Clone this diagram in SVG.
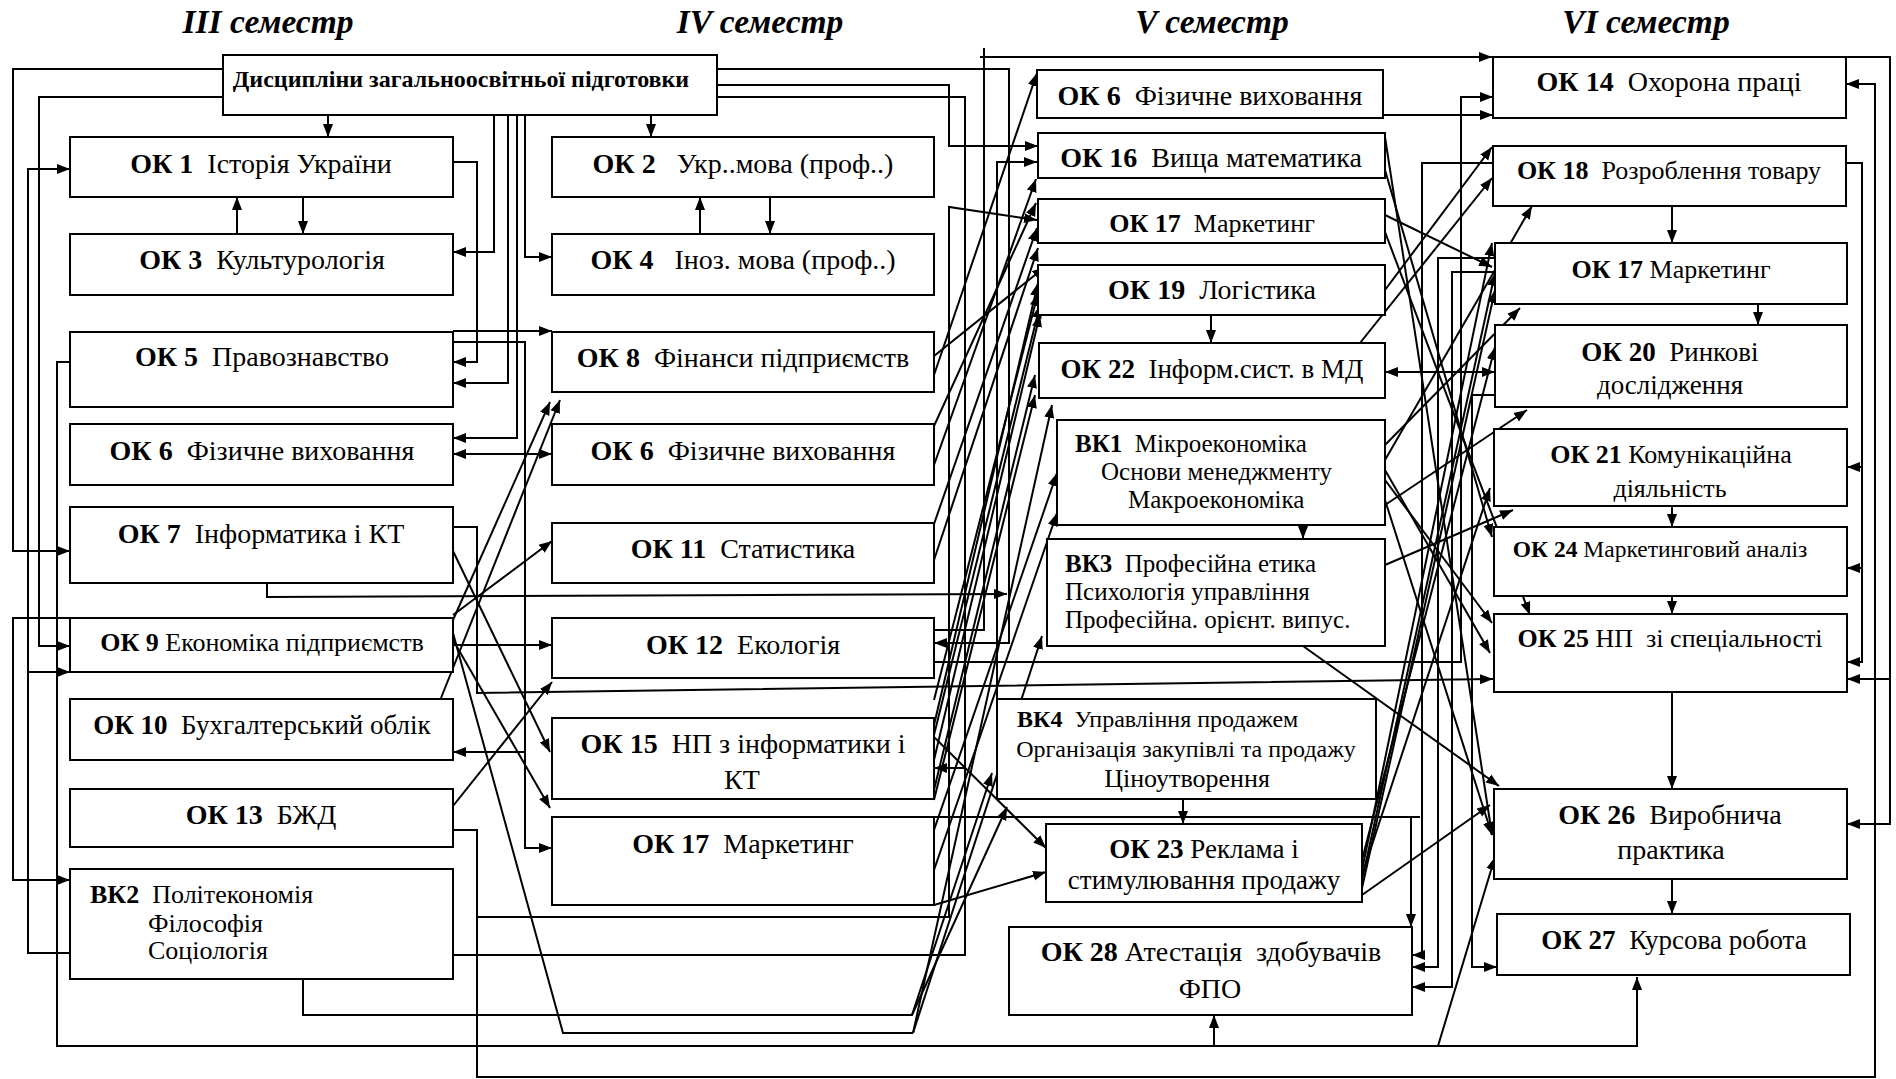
<svg xmlns="http://www.w3.org/2000/svg" width="1896" height="1079" viewBox="0 0 1896 1079">
<defs>
<marker id="a" markerUnits="userSpaceOnUse" markerWidth="14" markerHeight="12" refX="13" refY="5" orient="auto-start-reverse" viewBox="0 0 14 10"><path d="M0,0 L13,5 L0,10 z" fill="#000"/></marker>
<style>
.n rect{fill:#fff;stroke:#000;stroke-width:2}
.t{font-family:"Liberation Serif","Times New Roman",serif;font-size:28px;fill:#000;white-space:pre}
.m{text-anchor:middle}
.b{font-weight:bold}
.h{font-family:"Liberation Serif","Times New Roman",serif;font-size:33.5px;font-weight:bold;font-style:italic;text-anchor:middle}
#connectors path{fill:none;stroke:#000;stroke-width:2}
#connectors .ar{marker-end:url(#a)}
#connectors .ab{marker-end:url(#a);marker-start:url(#a)}
</style>
</defs>
<rect width="1896" height="1079" fill="#fff"/>
<g id="titles">
<text class="h" x="268" y="33">III семестр</text>
<text class="h" x="760" y="33">IV семестр</text>
<text class="h" x="1212" y="33">V семестр</text>
<text class="h" x="1646" y="33">VI семестр</text>
</g>
<g id="connectors">
<path class="ar" d="M223,69 H13 V551 H70"/>
<path class="ar" d="M223,97 H39 V646 H70"/>
<path class="ar" d="M70,953 H28 V169 H70"/>
<path class="ar" d="M28,672 H70"/>
<path class="ar" d="M70,618 H13 V880 H70"/>
<path class="ar" d="M70,362 H57 V1046 H1637 V977"/>
<path class="ar" d="M1214,1046 V1015"/>
<path class="ar" d="M1438,1046 L1495,857"/>
<path class="ar" d="M328,115 V137"/>
<path class="ar" d="M237,234 V197"/>
<path class="ar" d="M303,197 V234"/>
<path class="ar" d="M453,162 H477 V362 H453"/>
<path class="ar" d="M494,115 V252 H453"/>
<path class="ar" d="M508,115 V383 H453"/>
<path class="ar" d="M517,115 V438 H453"/>
<path class="ar" d="M525,115 V257 H552"/>
<path class="ar" d="M651,115 V137"/>
<path class="ar" d="M700,234 V197"/>
<path class="ar" d="M770,197 V234"/>
<path class="ar" d="M453,331 H552"/>
<path class="ar" d="M453,342 H525 V848 H552"/>
<path class="ar" d="M525,752 H453"/>
<path class="ab" d="M453,454 H552"/>
<path class="ar" d="M453,527 H477 V693 L1493,679"/>
<path class="ar" d="M267,583 V597 L1007,594"/>
<path class="ar" d="M453,645 H552"/>
<path class="ar" d="M453,830 H477 V1077 H1875 V84 H1846"/>
<path class="ar" d="M477,917 H949 V207 L1037,220"/>
<path d="M453,955 H965 V97 H717"/>
<path class="ar" d="M303,979 V1015 H912 L992,773"/>
<path class="ar" d="M717,69 H1009 V643 H934"/>
<path class="ar" d="M717,85 H949 V146 H1038"/>
<path class="ar" d="M997,699 V162 H1037"/>
<path d="M934,630 H984 V48"/>
<path class="ar" d="M980,57 H1492"/>
<path class="ar" d="M1492,57 H1890 V824 H1847"/>
<path class="ar" d="M1890,679 H1847"/>
<path class="ar" d="M1383,115 H1493"/>
<path class="ar" d="M934,662 H1461 V97 H1493"/>
<path class="ar" d="M1846,163 H1862 V662 H1847"/>
<path class="ar" d="M1862,467 H1847"/>
<path class="ar" d="M1862,568 H1847"/>
<path class="ar" d="M1672,206 V243"/>
<path class="ar" d="M1758,304 V325"/>
<path class="ar" d="M1672,506 V527"/>
<path class="ar" d="M1672,596 V614"/>
<path class="ar" d="M1672,692 V789"/>
<path class="ar" d="M1672,879 V914"/>
<path class="ar" d="M1211,315 V343"/>
<path class="ar" d="M1303,525 V539"/>
<path class="ar" d="M1183,799 V824"/>
<path class="ar" d="M1493,163 H1422 V955 H1412"/>
<path class="ar" d="M1495,258 H1438 V967 H1412"/>
<path class="ar" d="M1495,272 H1452 V987 H1412"/>
<path class="ar" d="M1495,395 H1472 V967 H1497"/>
<path d="M934,817 H1420"/>
<path class="ar" d="M1411,817 V927"/>
<path class="ab" d="M1385,372 H1495"/>
<path class="ar" d="M934,375 L1037,73"/>
<path class="ar" d="M934,356 L1045,267"/>
<path class="ar" d="M934,426 L1036,203"/>
<path class="ar" d="M934,465 L1036,179"/>
<path class="ar" d="M934,524 L1037,228"/>
<path class="ar" d="M934,560 L1038,248"/>
<path class="ar" d="M934,725 L1038,283"/>
<path class="ar" d="M934,700 L1038,293"/>
<path class="ar" d="M934,735 L1040,305"/>
<path class="ar" d="M934,760 L1040,314"/>
<path class="ar" d="M934,790 L1035,375"/>
<path class="ar" d="M934,800 L1035,395"/>
<path class="ar" d="M934,737 L1046,848"/>
<path class="ar" d="M934,830 L1057,473"/>
<path class="ar" d="M934,870 L1057,513"/>
<path class="ar" d="M934,905 L1046,872"/>
<path class="ar" d="M913,1033 L1042,636"/>
<path class="ar" d="M912,1015 L1007,807"/>
<path class="ar" d="M913,1033 L1052,405"/>
<path class="ar" d="M965,768 H934"/>
<path d="M453,633 L563,1033 H913"/>
<path class="ar" d="M453,551 L550,752"/>
<path class="ar" d="M453,640 L550,808"/>
<path class="ar" d="M453,620 L550,402"/>
<path class="ar" d="M441,698 L560,400"/>
<path class="ar" d="M453,615 L552,541"/>
<path class="ar" d="M453,806 L552,682"/>
<path class="ar" d="M1385,215 L1492,267"/>
<path class="ar" d="M1385,232 L1530,615"/>
<path class="ar" d="M1385,137 L1492,835"/>
<path class="ar" d="M1385,170 L1492,537"/>
<path class="ar" d="M1385,290 L1492,147"/>
<path class="ar" d="M1360,343 L1492,178"/>
<path class="ar" d="M1385,460 L1532,206"/>
<path class="ar" d="M1385,505 L1527,410"/>
<path class="ar" d="M1385,565 L1513,510"/>
<path class="ar" d="M1303,646 L1499,786"/>
<path class="ar" d="M1362,895 L1490,805"/>
<path class="ar" d="M1362,870 L1492,243"/>
<path class="ar" d="M1362,880 L1495,273"/>
<path class="ar" d="M1362,888 L1495,290"/>
<path class="ar" d="M1362,860 L1495,347"/>
<path class="ar" d="M1362,875 L1490,488"/>
<path class="ar" d="M1385,480 L1492,623"/>
<path class="ar" d="M1385,470 L1490,653"/>
<path class="ar" d="M1385,500 L1492,835"/>
<path class="ar" d="M1385,445 L1520,308"/>
</g>
<g id="TOP" class="n"><rect x="223" y="55" width="494" height="60"/><text class="t m b" x="461" y="87" style="font-size:24px">Дисципліни загальноосвітньої підготовки</text></g>
<g id="OK1" class="n"><rect x="70" y="137" width="383" height="60"/><text class="t m" x="261" y="173"><tspan class="b">ОК 1</tspan>  Історія України</text></g>
<g id="OK3" class="n"><rect x="70" y="234" width="383" height="61"/><text class="t m" x="262" y="269"><tspan class="b">ОК 3</tspan>  Культурологія</text></g>
<g id="OK5" class="n"><rect x="70" y="332" width="383" height="75"/><text class="t m" x="262" y="366"><tspan class="b">ОК 5</tspan>  Правознавство</text></g>
<g id="OK6-III" class="n"><rect x="70" y="424" width="383" height="61"/><text class="t m" x="262" y="460"><tspan class="b">ОК 6</tspan>  Фізичне виховання</text></g>
<g id="OK7" class="n"><rect x="70" y="507" width="383" height="76"/><text class="t m" x="261" y="543"><tspan class="b">ОК 7</tspan>  Інформатика і КТ</text></g>
<g id="OK9" class="n"><rect x="70" y="618" width="383" height="54"/><text class="t m" x="262" y="651" style="font-size:26px"><tspan class="b">ОК 9</tspan> Економіка підприємств</text></g>
<g id="OK10" class="n"><rect x="70" y="699" width="383" height="61"/><text class="t m" x="262" y="734" style="font-size:27px"><tspan class="b">ОК 10</tspan>  Бухгалтерський облік</text></g>
<g id="OK13" class="n"><rect x="70" y="789" width="383" height="58"/><text class="t m" x="261" y="824"><tspan class="b">ОК 13</tspan>  БЖД</text></g>
<g id="VK2" class="n"><rect x="70" y="869" width="383" height="110"/><text class="t" x="90" y="903" style="font-size:26px"><tspan class="b">ВК2</tspan>  Політекономія</text><text class="t" x="148" y="932" style="font-size:26px">Філософія</text><text class="t" x="148" y="959" style="font-size:26px">Соціологія</text></g>
<g id="OK2" class="n"><rect x="552" y="137" width="382" height="60"/><text class="t m" x="743" y="173"><tspan class="b">ОК 2</tspan>   Укр..мова (проф..)</text></g>
<g id="OK4" class="n"><rect x="552" y="234" width="382" height="61"/><text class="t m" x="743" y="269"><tspan class="b">ОК 4</tspan>   Іноз. мова (проф..)</text></g>
<g id="OK8" class="n"><rect x="552" y="332" width="382" height="60"/><text class="t m" x="743" y="367"><tspan class="b">ОК 8</tspan>  Фінанси підприємств</text></g>
<g id="OK6-IV" class="n"><rect x="552" y="424" width="382" height="61"/><text class="t m" x="743" y="460"><tspan class="b">ОК 6</tspan>  Фізичне виховання</text></g>
<g id="OK11" class="n"><rect x="552" y="523" width="382" height="60"/><text class="t m" x="743" y="558"><tspan class="b">ОК 11</tspan>  Статистика</text></g>
<g id="OK12" class="n"><rect x="552" y="618" width="382" height="60"/><text class="t m" x="743" y="654"><tspan class="b">ОК 12</tspan>  Екологія</text></g>
<g id="OK15" class="n"><rect x="552" y="718" width="382" height="81"/><text class="t m" x="743" y="753"><tspan class="b">ОК 15</tspan>  НП з інформатики і</text><text class="t m" x="742" y="789">КТ</text></g>
<g id="OK17-IV" class="n"><rect x="552" y="817" width="382" height="88"/><text class="t m" x="743" y="853"><tspan class="b">ОК 17</tspan>  Маркетинг</text></g>
<g id="OK6-V" class="n"><rect x="1037" y="70" width="346" height="48"/><text class="t m" x="1210" y="105"><tspan class="b">ОК 6</tspan>  Фізичне виховання</text></g>
<g id="OK16" class="n"><rect x="1038" y="133" width="347" height="45"/><text class="t m" x="1211" y="167"><tspan class="b">ОК 16</tspan>  Вища математика</text></g>
<g id="OK17-V" class="n"><rect x="1038" y="199" width="347" height="44"/><text class="t m" x="1212" y="232" style="font-size:26px"><tspan class="b">ОК 17</tspan>  Маркетинг</text></g>
<g id="OK19" class="n"><rect x="1038" y="265" width="347" height="50"/><text class="t m" x="1212" y="299"><tspan class="b">ОК 19</tspan>  Логістика</text></g>
<g id="OK22" class="n"><rect x="1039" y="343" width="346" height="55"/><text class="t m" x="1212" y="378" style="font-size:27px"><tspan class="b">ОК 22</tspan>  Інформ.сист. в МД</text></g>
<g id="VK1" class="n"><rect x="1057" y="420" width="328" height="105"/><text class="t" x="1075" y="452" style="font-size:25px"><tspan class="b">ВК1</tspan>  Мікроекономіка</text><text class="t" x="1101" y="480" style="font-size:25px">Основи менеджменту</text><text class="t" x="1128" y="508" style="font-size:25px">Макроекономіка</text></g>
<g id="VK3" class="n"><rect x="1047" y="539" width="338" height="107"/><text class="t" x="1065" y="572" style="font-size:25px"><tspan class="b">ВК3</tspan>  Професійна етика</text><text class="t" x="1065" y="600" style="font-size:25px">Психологія управління</text><text class="t" x="1065" y="628" style="font-size:25px">Професійна. орієнт. випус.</text></g>
<g id="VK4" class="n"><rect x="997" y="699" width="379" height="100"/><text class="t" x="1017" y="727" style="font-size:24px"><tspan class="b">ВК4</tspan>  Управління продажем</text><text class="t m" x="1186" y="757" style="font-size:24px">Організація закупівлі та продажу</text><text class="t m" x="1187" y="787" style="font-size:26px">Ціноутворення</text></g>
<g id="OK23" class="n"><rect x="1046" y="824" width="316" height="78"/><text class="t m" x="1204" y="858" style="font-size:27px"><tspan class="b">ОК 23</tspan> Реклама і</text><text class="t m" x="1204" y="889" style="font-size:27px">стимулювання продажу</text></g>
<g id="OK28" class="n"><rect x="1009" y="927" width="403" height="88"/><text class="t m" x="1211" y="961"><tspan class="b">ОК 28</tspan> Атестація  здобувачів</text><text class="t m" x="1210" y="998">ФПО</text></g>
<g id="OK14" class="n"><rect x="1493" y="57" width="353" height="61"/><text class="t m" x="1669" y="91"><tspan class="b">ОК 14</tspan>  Охорона праці</text></g>
<g id="OK18" class="n"><rect x="1493" y="146" width="353" height="60"/><text class="t m" x="1669" y="179" style="font-size:26px"><tspan class="b">ОК 18</tspan>  Розроблення товару</text></g>
<g id="OK17-VI" class="n"><rect x="1495" y="243" width="352" height="61"/><text class="t m" x="1671" y="278" style="font-size:26px"><tspan class="b">ОК 17</tspan> Маркетинг</text></g>
<g id="OK20" class="n"><rect x="1495" y="325" width="352" height="82"/><text class="t m" x="1670" y="361" style="font-size:27px"><tspan class="b">ОК 20</tspan>  Ринкові</text><text class="t m" x="1670" y="394" style="font-size:27px">дослідження</text></g>
<g id="OK21" class="n"><rect x="1494" y="429" width="353" height="77"/><text class="t m" x="1671" y="463" style="font-size:26px"><tspan class="b">ОК 21</tspan> Комунікаційна</text><text class="t m" x="1670" y="497" style="font-size:26px">діяльність</text></g>
<g id="OK24" class="n"><rect x="1494" y="527" width="353" height="69"/><text class="t m" x="1660" y="557" style="font-size:23.5px"><tspan class="b">ОК 24</tspan> Маркетинговий аналіз</text></g>
<g id="OK25" class="n"><rect x="1494" y="614" width="353" height="78"/><text class="t m" x="1670" y="647" style="font-size:26px"><tspan class="b">ОК 25</tspan> НП  зі спеціальності</text></g>
<g id="OK26" class="n"><rect x="1494" y="789" width="353" height="90"/><text class="t m" x="1670" y="824"><tspan class="b">ОК 26</tspan>  Виробнича</text><text class="t m" x="1671" y="859">практика</text></g>
<g id="OK27" class="n"><rect x="1497" y="914" width="353" height="61"/><text class="t m" x="1674" y="949" style="font-size:27px"><tspan class="b">ОК 27</tspan>  Курсова робота</text></g>
</svg>
